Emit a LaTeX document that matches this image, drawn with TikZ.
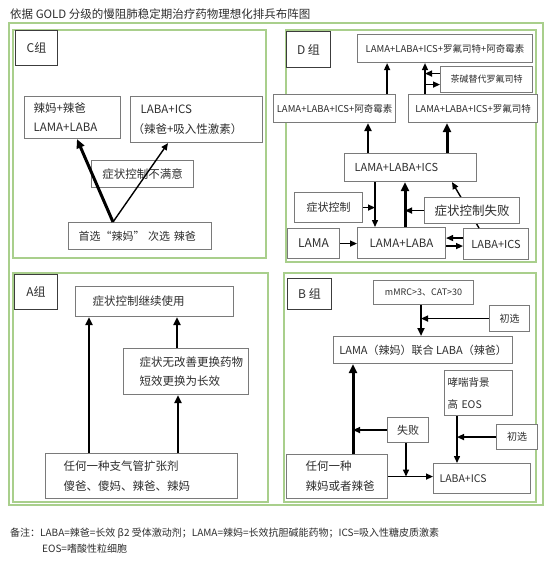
\documentclass[tikz,border=0pt]{standalone}
\usepackage{fontspec}
\setmainfont{Noto Sans CJK SC}
\usetikzlibrary{arrows.meta,calc}
\definecolor{frgreen}{HTML}{A9CF8C}
\definecolor{boxgray}{HTML}{7A7A7A}
\definecolor{labgray}{HTML}{3C3C3C}
\definecolor{txt}{HTML}{2E2E2E}
\newcommand\fs[2]{\fontsize{#1}{#2}\selectfont}
\begin{document}
\begin{tikzpicture}[x=1pt,y=-1pt,
  panel/.style={draw=frgreen,line width=2pt},
  box/.style={draw=boxgray,fill=white,line width=1.1pt,anchor=north west,inner ysep=0pt,align=left,text=txt},
  cbox/.style={draw=boxgray,fill=white,line width=1.1pt,anchor=north west,inner sep=0pt,align=center,text=txt},
  lab/.style={draw=labgray,fill=white,line width=1pt,anchor=north west,inner sep=0pt,text=txt,font=\fs{12}{14}},
  arr/.style={line width=1.4pt,-{Triangle[length=7pt,width=6pt]}},
  arrm/.style={line width=2.2pt,-{Triangle[length=8pt,width=7pt]}},
  arrt/.style={line width=3pt,-{Triangle[length=9pt,width=8pt]}},
]
\useasboundingbox[fill=white] (0,0) rectangle (556,564);

% title
\node[anchor=west,inner sep=0pt,text=txt,font=\fs{11.5}{14}] (title) at (10,14) {依据 GOLD 分级的慢阻肺稳定期治疗药物理想化排兵布阵图};

% outer frame and panels
\draw[panel] (9,23) rectangle (543,505);
\draw[panel] (13,30) rectangle (266,258);
\draw[panel] (286,30) rectangle (536,262);
\draw[panel] (13,273) rectangle (268,502);
\draw[panel] (284,273) rectangle (536,502);

% ---------------- C panel
\node[lab,minimum width=42pt,minimum height=35pt] (Clab) at (15,30) {C组};
\node[box,minimum width=96pt,minimum height=42pt,text width=78pt,inner xsep=9pt,font=\fs{11.5}{19}] (c1) at (24,96) {辣妈+辣爸\\LAMA+LABA};
\node[box,minimum width=132pt,minimum height=46pt,text width=128pt,inner xsep=2pt,font=\fs{11.5}{20}] (c2) at (130,96) {\hspace*{8pt}LABA+ICS\\（辣爸+吸入性激素）};
\node[cbox,minimum width=102pt,minimum height=27pt,font=\fs{11.5}{14}] (c3) at (91,160) {症状控制不满意};
\node[box,minimum width=143pt,minimum height=27pt,text width=123pt,inner xsep=10pt,font=\fs{11}{14}] (c4) at (68,222) {首选“辣妈” 次选 辣爸};
\coordinate (cv) at ($(c4.north west)+(45,0)$);
\coordinate (c1in) at ($(c1.south west)+(53,0)$);
\coordinate (c2in) at ($(c2.south west)+(38,0)$);
\draw[arrt] (cv) -- (c1in);
\draw[arr] (cv) -- (c2in);

% ---------------- D panel
\node[lab,minimum width=44pt,minimum height=36pt] (Dlab) at (286,31) {D 组};
\node[cbox,minimum width=175pt,minimum height=28pt,font=\fs{9.5}{12}] (d1) at (357,34) {LAMA+LABA+ICS+罗氟司特+阿奇霉素};
\node[cbox,minimum width=92pt,minimum height=26pt,font=\fs{9}{12}] (d2) at (440,66) {茶碱替代罗氟司特};
\node[cbox,minimum width=122pt,minimum height=28pt,font=\fs{9.5}{12}] (d3) at (273,94) {LAMA+LABA+ICS+阿奇霉素};
\node[cbox,minimum width=129pt,minimum height=28pt,font=\fs{9.5}{12}] (d4) at (408,94) {LAMA+LABA+ICS+罗氟司特};
\node[box,minimum width=132pt,minimum height=28pt,text width=112pt,inner xsep=10pt,font=\fs{11}{14}] (d5) at (344,153) {LAMA+LABA+ICS};
\node[cbox,minimum width=65pt,minimum height=31pt,font=\fs{11}{14}] (d10) at (463,228) {LABA+ICS};
\coordinate (p7) at ($(d10.north west)+(16,0)$);
\coordinate (p8) at ($(d5.south west)+(108,0)$);
\draw[arr] (p7) -- (p8);
\node[cbox,minimum width=68pt,minimum height=30pt,font=\fs{11}{14}] (d6) at (294,192) {症状控制};
\node[cbox,minimum width=95pt,minimum height=26pt,font=\fs{12.5}{14}] (d7) at (424,197) {症状控制失败};
\node[cbox,minimum width=52pt,minimum height=30pt,font=\fs{12}{14}] (d8) at (287,228) {LAMA};
\node[cbox,minimum width=88pt,minimum height=31pt,font=\fs{11.5}{14}] (d9) at (357,227) {LAMA+LABA};

\coordinate (p1) at ($(d3.north east)+(-9,0)$);
\draw[arr] (p1) -- (p1 |- d1.south);
\coordinate (p2) at ($(d4.north west)+(17,0)$);
\draw[arr] (p2) -- (p2 |- d1.south);
\coordinate (q1) at ($(d2.west)+(0,-6)$);
\coordinate (q2) at ($(d2.west)+(0,5)$);
\draw[arr] (q1) -- (q1 -| p2);
\draw[arr] (q2 -| p2) -- (q2);
\coordinate (p3) at ($(d5.north west)+(24,0)$);
\draw[arrm] (p3) -- (p3 |- d3.south);
\coordinate (p4) at ($(d5.north west)+(103,0)$);
\draw[arrt] (p4) -- (p4 |- d4.south);
\coordinate (p5) at ($(d5.south west)+(31,0)$);
\draw[arr] (p5) -- (p5 |- d9.north);
\draw[arr] (d6.east) -- (d6.east -| p5);
\coordinate (p6) at ($(d9.north west)+(48,0)$);
\draw[arrt] (p6) -- (p6 |- d5.south);
\draw[arr] (d7.west) -- (d7.west -| p6);
\draw[arr] (d8.east) -- (d8.east -| d9.west);
\coordinate (r1) at ($(d10.west)+(0,-6)$);
\coordinate (r2) at ($(d10.west)+(0,2)$);
\draw[arr] (r1) -- (r1 -| d9.east);
\draw[arr] (r2 -| d9.east) -- (r2);

% ---------------- A panel
\node[lab,minimum width=43pt,minimum height=35pt] (Alab) at (14,274) {A组};
\node[box,minimum width=158pt,minimum height=30pt,text width=124pt,inner xsep=17pt,font=\fs{11.5}{14}] (a1) at (75,286) {症状控制继续使用};
\node[box,minimum width=125pt,minimum height=46pt,text width=93pt,inner xsep=16pt,font=\fs{11.5}{19}] (a2) at (123,348) {症状无改善更换药物\\短效更换为长效};
\node[box,minimum width=192pt,minimum height=45pt,text width=156pt,inner xsep=18pt,font=\fs{11.5}{20}] (a3) at (45,453) {任何一种支气管扩张剂\\傻爸、傻妈、辣爸、辣妈};
\coordinate (s1) at ($(a3.north west)+(44,0)$);
\draw[arrm] (s1) -- (s1 |- a1.south);
\coordinate (s2) at ($(a3.north west)+(133,0)$);
\draw[arrm] (s2) -- (s2 |- a2.south);
\coordinate (s3) at ($(a2.north west)+(54,0)$);
\draw[arrm] (s3) -- (s3 |- a1.south);

% ---------------- B panel
\node[lab,minimum width=44pt,minimum height=31pt] (Blab) at (287,278) {B 组};
\node[cbox,minimum width=100pt,minimum height=24pt,font=\fs{9}{12}] (b1) at (373,280) {mMRC>3、CAT>30};
\node[cbox,minimum width=40pt,minimum height=26pt,font=\fs{10}{12}] (b2) at (489,305) {初选};
\node[cbox,minimum width=179pt,minimum height=27pt,font=\fs{11}{14}] (b3) at (333,336) {LAMA（辣妈）联合 LABA（辣爸）};
\node[box,minimum width=68pt,minimum height=45pt,text width=62pt,inner xsep=3pt,font=\fs{10.5}{22}] (b4) at (444,370) {哮喘背景\\高 EOS};
\node[cbox,minimum width=41pt,minimum height=25pt,font=\fs{11}{14}] (b5) at (387,417) {失败};
\node[cbox,minimum width=41pt,minimum height=25pt,font=\fs{10}{12}] (b6) at (496,424) {初选};
\node[box,minimum width=101pt,minimum height=44pt,text width=63pt,inner xsep=19pt,font=\fs{11.5}{20}] (b7) at (286,454) {任何一种\\辣妈或者辣爸};
\node[box,minimum width=97pt,minimum height=30pt,text width=85pt,inner xsep=6pt,font=\fs{10.5}{14}] (b8) at (433,463) {LABA+ICS};

\coordinate (t1) at ($(b1.south west)+(48,0)$);
\draw[arrm] (t1) -- (t1 |- b3.north);
\draw[arr] (b2.west) -- (b2.west -| t1);
\coordinate (t2) at ($(b7.north west)+(67,0)$);
\draw[arrt] (t2) -- (t2 |- b3.south);
\draw[arr] (b5.west) -- (b5.west -| t2);
\draw[arr] (b7.east) -- (b7.east -| b8.west);
\coordinate (t3) at ($(b5.south west)+(19,0)$);
\draw[arr] (t3) -- (t3 |- b7.east);
\coordinate (t4) at ($(b4.south west)+(13,0)$);
\draw[arr] (t4) -- (t4 |- b8.north);
\draw[arr] (b6.west) -- (b6.west -| t4);

% notes
\node[anchor=west,inner sep=0pt,text=txt,font=\fs{10}{12}] (note1) at (10,533) {备注：LABA=辣爸=长效 β2 受体激动剂；LAMA=辣妈=长效抗胆碱能药物；ICS=吸入性糖皮质激素};
\node[anchor=west,inner sep=0pt,text=txt,font=\fs{10}{12}] (note2) at (42,549) {EOS=嗜酸性粒细胞};
\end{tikzpicture}
\end{document}
